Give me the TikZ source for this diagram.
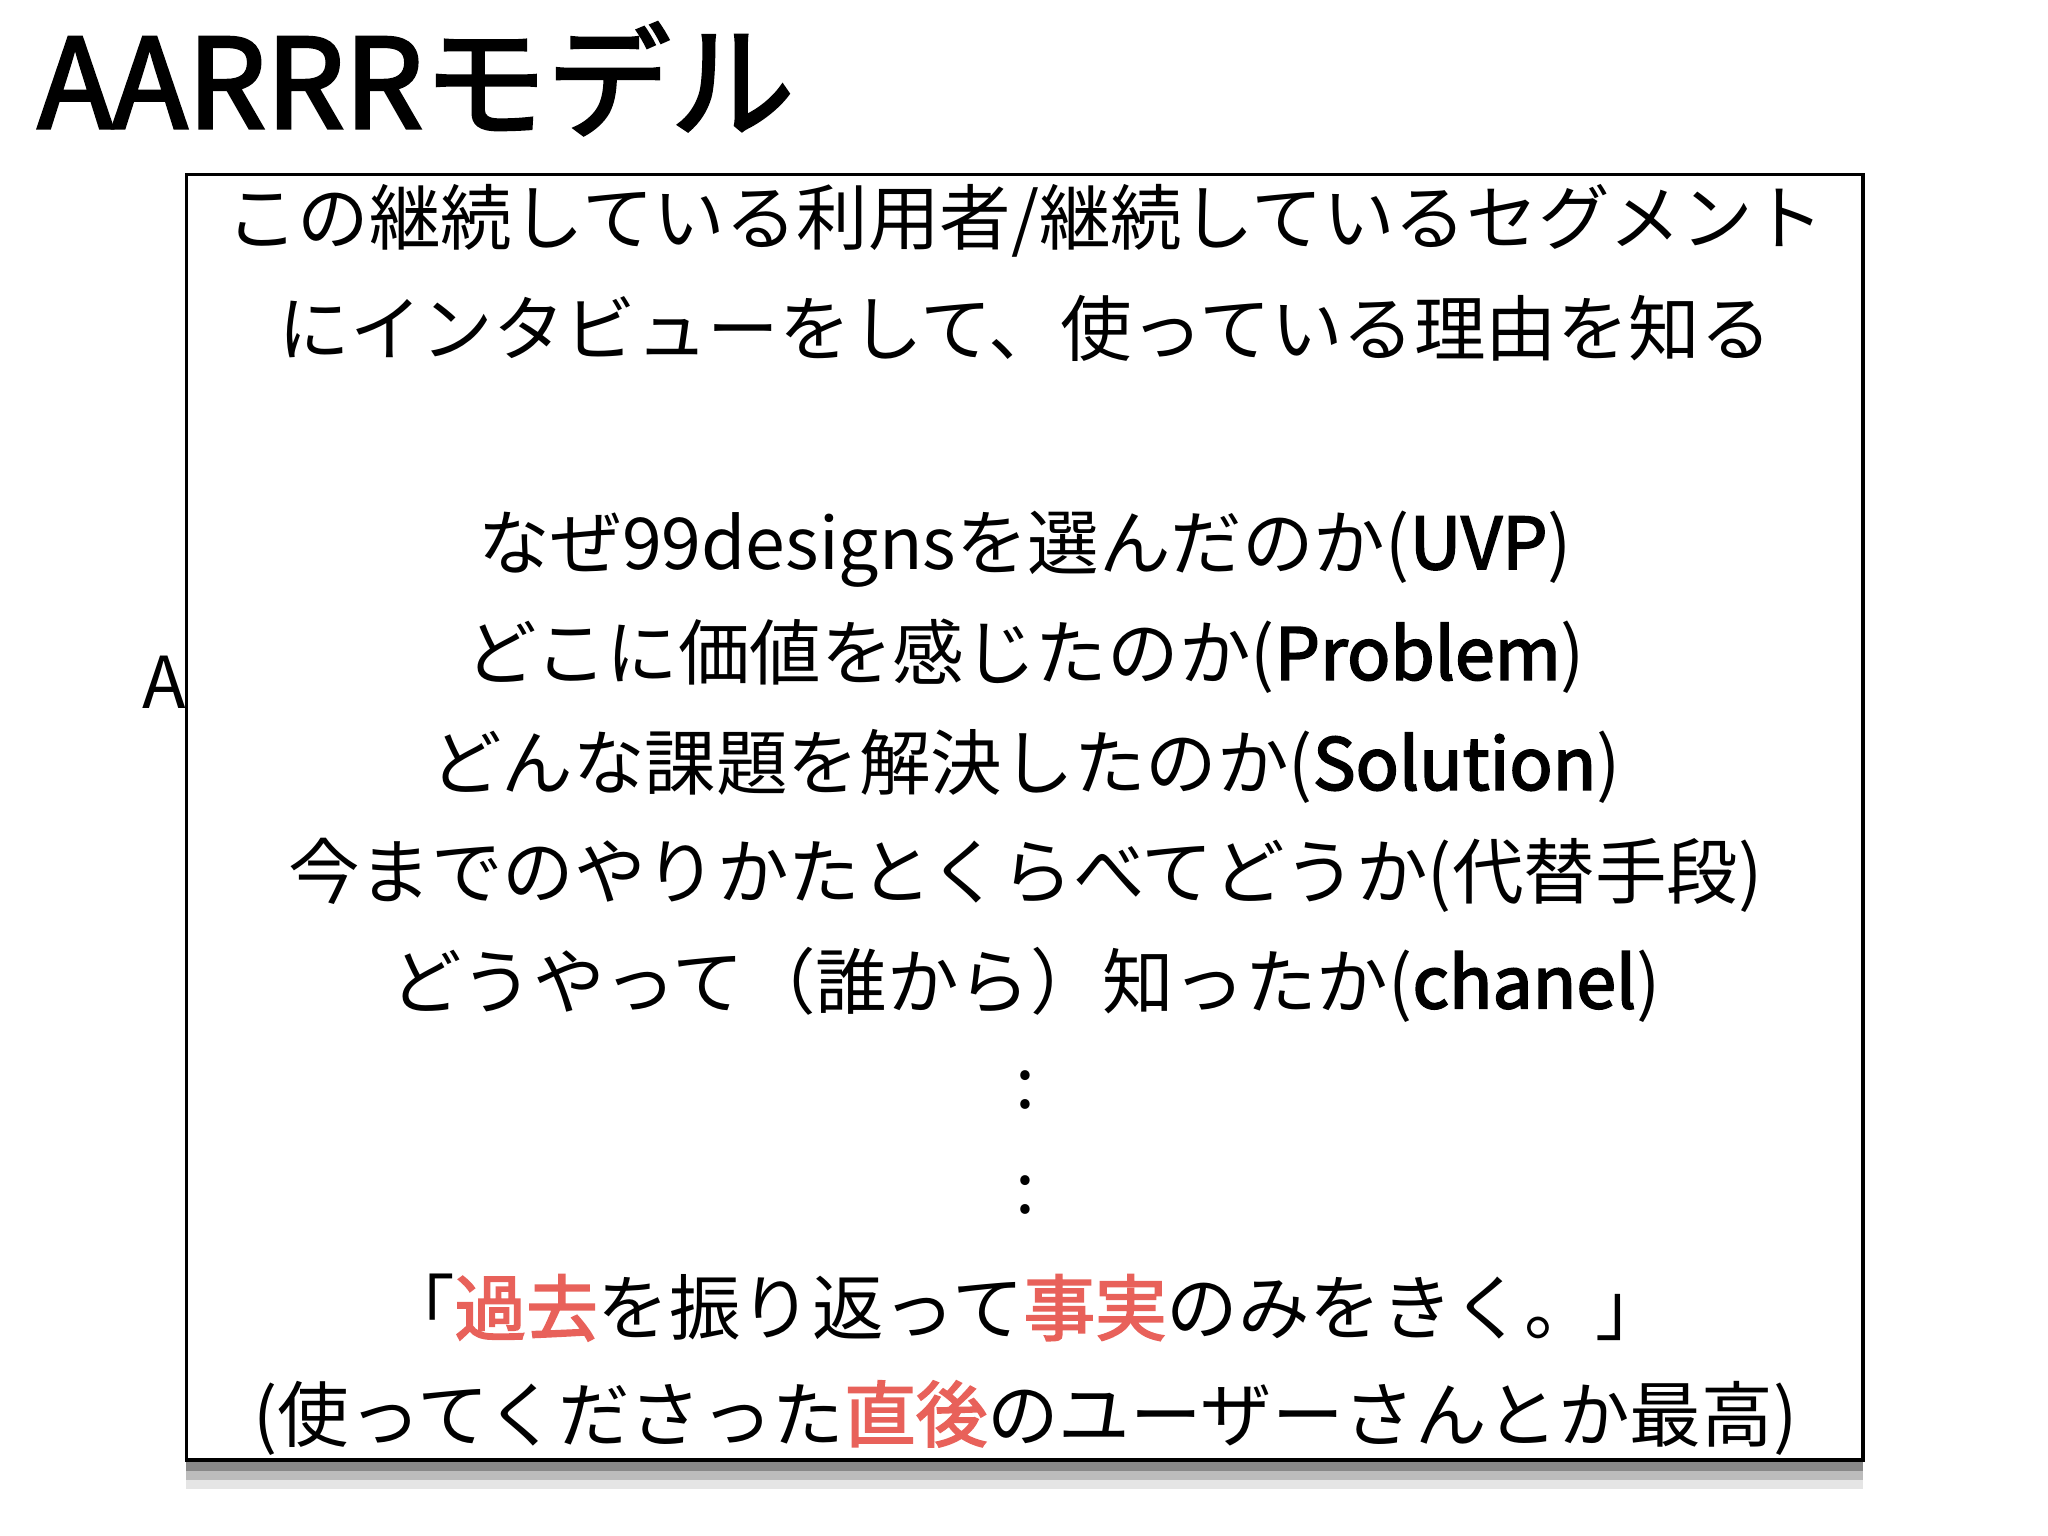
\documentclass[tikz,border=0pt]{standalone}
\usepackage{fontspec}
\newfontfamily\jp[AutoFakeBold=2.5]{Noto Sans CJK JP}
\definecolor{hl}{HTML}{E8615A}
\begin{document}
\begin{tikzpicture}[x=0.01cm,y=-0.01cm,
  ln/.style={font=\jp\fontsize{15.5pt}{17pt}\selectfont,anchor=center,inner sep=0}]
\useasboundingbox (0,0) rectangle (1560,1170);
\node[anchor=west,font=\jp\bfseries\fontsize{26.8pt}{30pt}\selectfont,inner sep=0] (title) at (28,60) {AARRRモデル};
\node[anchor=west,font=\jp\fontsize{15.5pt}{17pt}\selectfont,inner sep=0] (a) at (108,520) {A};
\foreach \i/\o in {10/0.10,7/0.18,4/0.28} {\fill[black,opacity=\o] (142,1112) rectangle (1419,1112+\i*2.2);}
\filldraw[draw=black,line width=0.8pt,fill=white] (142,133) rectangle (1419,1112);
\node[ln] (l1) at (781,168) {この継続している利用者/継続しているセグメント};
\node[ln] (l2) at (781,250) {にインタビューをして、使っている理由を知る};
\node[ln] (l3) at (781,418) {なぜ99designsを選んだのか(\textbf{UVP})};
\node[ln] (l4) at (781,500) {どこに価値を感じたのか(\textbf{Problem})};
\node[ln] (l5) at (781,584) {どんな課題を解決したのか(\textbf{Solution})};
\node[ln] (l6) at (781,667) {今までのやりかたとくらべてどうか(代替手段)};
\node[ln] (l7) at (781,750) {どうやって（誰から）知ったか(\textbf{chanel})};
\node[ln] (l8) at (781,830) {:};
\node[ln] (l9) at (781,910) {:};
\node[ln] (l10) at (781,996) {「\textcolor{hl}{\textbf{過去}}を振り返って\textcolor{hl}{\textbf{事実}}のみをきく。」};
\node[ln] (l11) at (781,1080) {(使ってくださった\textcolor{hl}{\textbf{直後}}のユーザーさんとか最高)};
\end{tikzpicture}
\end{document}
